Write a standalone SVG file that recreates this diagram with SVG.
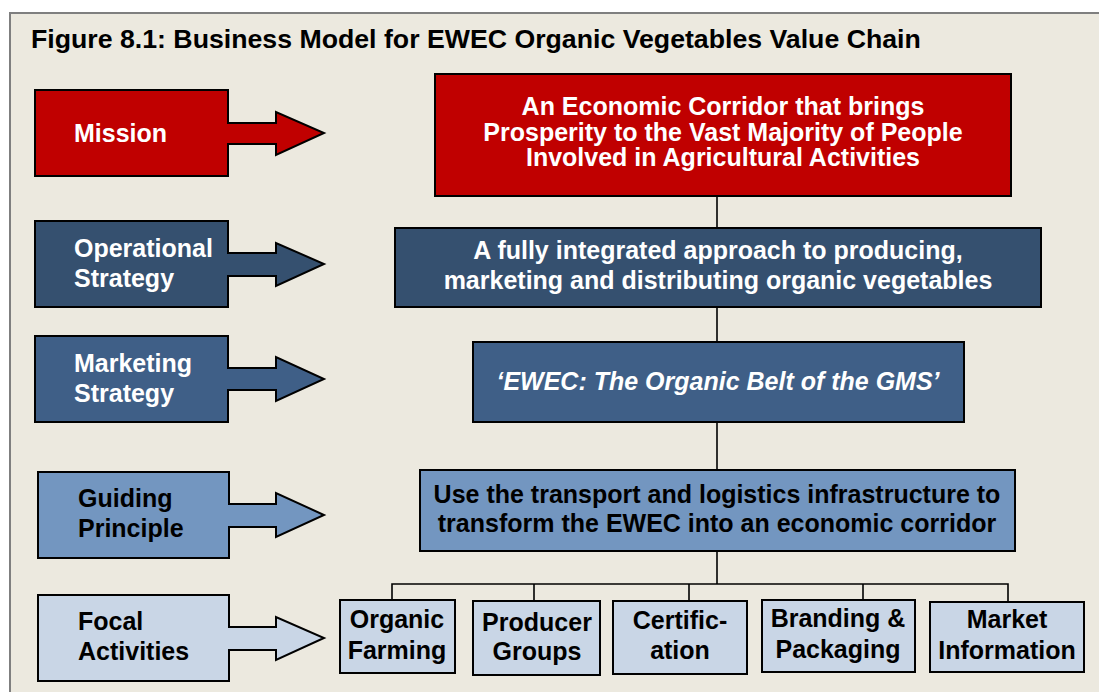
<svg xmlns="http://www.w3.org/2000/svg" width="1099" height="692" viewBox="0 0 1099 692">
<style>
text{font-family:"Liberation Sans",Arial,sans-serif;font-weight:bold;font-size:25px}
.title{font-size:26.7px}
.w{fill:#fff}
.k{fill:#000}
.c{text-anchor:middle}
.box{stroke:#000;stroke-width:2}
.red{fill:#C00000}
.op{fill:#35506F}
.mk{fill:#3F5F87}
.gp{fill:#7396C0}
.fa{fill:#C9D6E6}
.conn line,.conn polyline{stroke:#000;stroke-width:1.6;fill:none}
</style>
<rect x="0" y="0" width="1099" height="692" fill="#fff"/>
<rect x="10" y="13" width="1100" height="690" fill="#ECE9DF" stroke="#7f7f7f" stroke-width="2"/>
<text x="31" y="48" class="k title">Figure 8.1: Business Model for EWEC Organic Vegetables Value Chain</text>

<g class="conn">
<line x1="717" y1="196" x2="717" y2="228"/>
<line x1="717" y1="307" x2="717" y2="342"/>
<line x1="717" y1="422" x2="717" y2="470"/>
<line x1="717" y1="551" x2="717" y2="584"/>
<polyline points="392,600 392,584 1008,584 1008,601"/>
<line x1="534" y1="584" x2="534" y2="601"/>
<line x1="689" y1="584" x2="689" y2="601"/>
<line x1="863" y1="584" x2="863" y2="600"/>
</g>

<g id="mission-label">
<path class="box red" d="M35,90 H228 V123 H276 V112 L324,133 L276,155 V144 H228 V176 H35 Z"/>
<text x="74" y="142" class="w">Mission</text>
</g>
<g id="operational-label">
<path class="box op" d="M35,221 H228 V253 H276 V243 L324,264 L276,286 V276 H228 V307 H35 Z"/>
<text x="74" y="257" class="w">Operational</text>
<text x="74" y="287" class="w">Strategy</text>
</g>
<g id="marketing-label">
<path class="box mk" d="M35,336 H228 V368 H276 V357 L324,379 L276,401 V390 H228 V422 H35 Z"/>
<text x="74" y="372" class="w">Marketing</text>
<text x="74" y="402" class="w">Strategy</text>
</g>
<g id="guiding-label">
<path class="box gp" d="M38,472 H229 V504 H276 V493 L324,515 L276,537 V527 H229 V558 H38 Z"/>
<text x="78" y="507" class="k">Guiding</text>
<text x="78" y="537" class="k">Principle</text>
</g>
<g id="focal-label">
<path class="box fa" d="M38,595 H229 V627 H276 V617 L324,638 L276,660 V650 H229 V681 H38 Z"/>
<text x="78" y="630" class="k">Focal</text>
<text x="78" y="660" class="k">Activities</text>
</g>

<g id="mission">
<rect class="box red" x="435" y="74" width="576" height="122"/>
<text x="723" y="115" class="w c">An Economic Corridor that brings</text>
<text x="723" y="141" class="w c">Prosperity to the Vast Majority of People</text>
<text x="723" y="166" class="w c">Involved in Agricultural Activities</text>
</g>
<g id="operational">
<rect class="box op" x="395" y="228" width="646" height="79"/>
<text x="718" y="259" class="w c">A fully integrated approach to producing,</text>
<text x="718" y="289" class="w c">marketing and distributing organic vegetables</text>
</g>
<g id="marketing">
<rect class="box mk" x="473" y="342" width="491" height="80"/>
<text x="718" y="390" class="w c" font-style="italic">‘EWEC: The Organic Belt of the GMS’</text>
</g>
<g id="guiding">
<rect class="box gp" x="420" y="470" width="595" height="81"/>
<text x="717" y="503" class="k c">Use the transport and logistics infrastructure to</text>
<text x="717" y="532" class="k c">transform the EWEC into an economic corridor</text>
</g>

<g id="organic-farming">
<rect class="box fa" x="340" y="600" width="115" height="73"/>
<text x="397" y="628" class="k c">Organic</text>
<text x="397" y="659" class="k c">Farming</text>
</g>
<g id="producer-groups">
<rect class="box fa" x="473" y="601" width="127" height="74"/>
<text x="537" y="631" class="k c">Producer</text>
<text x="537" y="660" class="k c">Groups</text>
</g>
<g id="certification">
<rect class="box fa" x="613" y="601" width="134" height="73"/>
<text x="680" y="629" class="k c">Certific-</text>
<text x="680" y="659" class="k c">ation</text>
</g>
<g id="branding">
<rect class="box fa" x="762" y="600" width="153" height="72"/>
<text x="838" y="627" class="k c">Branding &amp;</text>
<text x="838" y="658" class="k c">Packaging</text>
</g>
<g id="market-info">
<rect class="box fa" x="930" y="602" width="154" height="70"/>
<text x="1007" y="628" class="k c">Market</text>
<text x="1007" y="659" class="k c">Information</text>
</g>
</svg>
